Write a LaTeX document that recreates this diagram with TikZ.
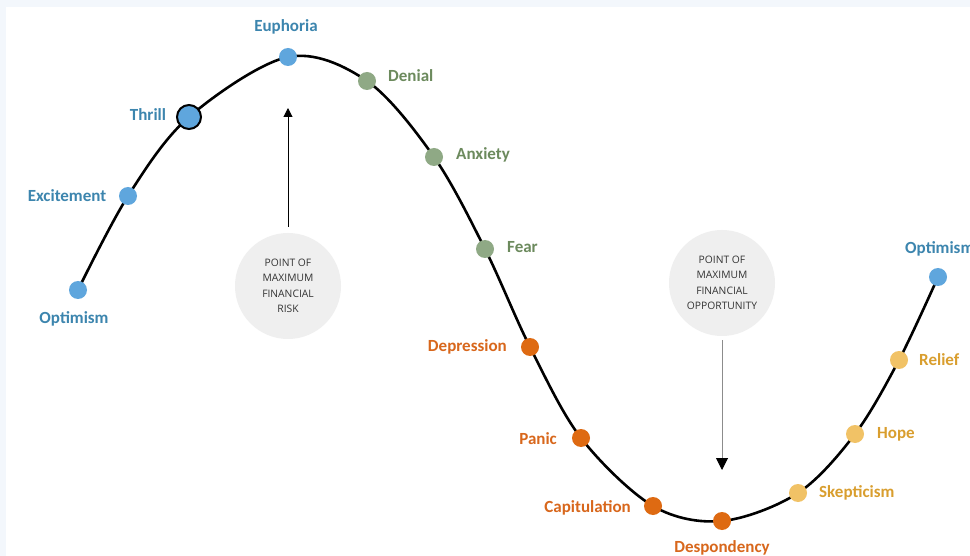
\documentclass[tikz,border=0pt]{standalone}
\usepackage{fontspec}
\setmainfont{Carlito}
\newfontfamily\smallfont{Open Sans}
\usetikzlibrary{arrows.meta}
\definecolor{bgblue}{HTML}{F3F7FC}
\definecolor{dotblue}{HTML}{5FA6DD}
\definecolor{txtblue}{HTML}{3C85AE}
\definecolor{dotgreen}{HTML}{8FA985}
\definecolor{txtgreen}{HTML}{6C8A5D}
\definecolor{dotorange}{HTML}{DE6A12}
\definecolor{txtorange}{HTML}{D8671C}
\definecolor{dotyellow}{HTML}{F1C266}
\definecolor{txtyellow}{HTML}{D99E2E}
\definecolor{bubble}{HTML}{EFEFEF}
\definecolor{bubbletxt}{HTML}{333333}
\tikzset{
  x=1pt, y=-1pt,
  dot/.style={circle, inner sep=0pt, minimum size=18pt},
  bluedot/.style={dot, fill=dotblue},
  greendot/.style={dot, fill=dotgreen},
  orangedot/.style={dot, fill=dotorange},
  yellowdot/.style={dot, fill=dotyellow},
  lbl/.style={font=\bfseries\fontsize{17}{19}\selectfont, inner sep=0pt},
  bluelbl/.style={lbl, text=txtblue},
  greenlbl/.style={lbl, text=txtgreen},
  orangelbl/.style={lbl, text=txtorange},
  yellowlbl/.style={lbl, text=txtyellow},
  bubblestyle/.style={circle, fill=bubble, minimum size=106pt, inner sep=0pt, align=center, text=bubbletxt, font=\smallfont\fontsize{10.3}{15.5}\selectfont},
  curve/.style={line width=2.6pt, black}
}
\begin{document}
\begin{tikzpicture}
\fill[bgblue] (0,0) rectangle (970,556);
\fill[white] (6,7) rectangle (970,556);
\useasboundingbox (0,0) rectangle (970,556);
% coordinates
\coordinate (p1) at (78,290);
\coordinate (p2) at (128,196);
\coordinate (p3) at (189,117);
\coordinate (p4) at (288,57);
\coordinate (p5) at (367,81);
\coordinate (p6) at (434,157);
\coordinate (p7) at (485,249);
\coordinate (p8) at (530,347);
\coordinate (p9) at (581,438);
\coordinate (p10) at (653,506);
\coordinate (p11) at (722,521);
\coordinate (p12) at (798,493);
\coordinate (p13) at (855,434);
\coordinate (p14) at (899,360);
\coordinate (p15) at (938,277);
\draw[curve] plot[smooth, tension=0.55] coordinates {(p1) (p2) (p3) (p4) (p5) (p6) (p7) (p8) (p9) (p10) (p11) (p12) (p13) (p14) (p15)};
% dots
\node[bluedot] (n1) at (p1) {};
\node[bluedot] (n2) at (p2) {};
\node[circle, fill=dotblue, draw=black, line width=2pt, minimum size=24pt, inner sep=0pt] (n3) at (p3) {};
\node[bluedot] (n4) at (p4) {};
\node[greendot] (n5) at (p5) {};
\node[greendot] (n6) at (p6) {};
\node[greendot] (n7) at (p7) {};
\node[orangedot] (n8) at (p8) {};
\node[orangedot] (n9) at (p9) {};
\node[orangedot] (n10) at (p10) {};
\node[orangedot] (n11) at (p11) {};
\node[yellowdot] (n12) at (p12) {};
\node[yellowdot] (n13) at (p13) {};
\node[yellowdot] (n14) at (p14) {};
\node[bluedot] (n15) at (p15) {};
% labels
\node[bluelbl] (l1) at (74,319) {Optimism};
\node[bluelbl] (l2) at (67,196) {Excitement};
\node[bluelbl] (l3) at (148,115) {Thrill};
\node[bluelbl] (l4) at (286,27) {Euphoria};
\node[greenlbl, anchor=west] (l5) at (388,76) {Denial};
\node[greenlbl, anchor=west] (l6) at (456,155) {Anxiety};
\node[greenlbl, anchor=west] (l7) at (507,247) {Fear};
\node[orangelbl, anchor=east] (l8) at (507,347) {Depression};
\node[orangelbl, anchor=east] (l9) at (557,439) {Panic};
\node[orangelbl, anchor=east] (l10) at (631,508) {Capitulation};
\node[orangelbl] (l11) at (722,548) {Despondency};
\node[yellowlbl, anchor=west] (l12) at (819,493) {Skepticism};
\node[yellowlbl, anchor=west] (l13) at (877,434) {Hope};
\node[yellowlbl, anchor=west] (l14) at (919,360) {Relief};
\node[bluelbl, anchor=west] (l15) at (905,249) {Optimism};
% bubbles
\node[bubblestyle] (risk) at (288,286) {POINT OF\\MAXIMUM\\FINANCIAL\\RISK};
\node[bubblestyle] (opp) at (722,283) {POINT OF\\MAXIMUM\\FINANCIAL\\OPPORTUNITY};
\coordinate (riskTip) at (288,108);
\coordinate (oppTip) at (722,470);
\draw[line width=1pt, -{Triangle[length=9pt, width=9pt]}] (risk.north) ++(0,-6) -- (riskTip);
\draw[line width=1pt, black!45, -{Triangle[length=12pt, width=12pt, color=black]}] (opp.south) ++(0,4) -- (oppTip);
\end{tikzpicture}
\end{document}
